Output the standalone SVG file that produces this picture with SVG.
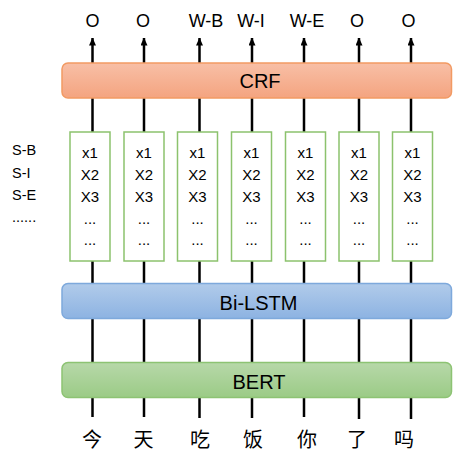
<svg xmlns="http://www.w3.org/2000/svg" width="453" height="453" viewBox="0 0 453 453">
  <defs>
    <linearGradient id="gCrf" x1="0" y1="0" x2="0" y2="1">
      <stop offset="0" stop-color="#f8bfa6"/>
      <stop offset="1" stop-color="#f4a480"/>
    </linearGradient>
    <linearGradient id="gLstm" x1="0" y1="0" x2="0" y2="1">
      <stop offset="0" stop-color="#b1cbea"/>
      <stop offset="1" stop-color="#8db3e2"/>
    </linearGradient>
    <linearGradient id="gBert" x1="0" y1="0" x2="0" y2="1">
      <stop offset="0" stop-color="#b7d8a9"/>
      <stop offset="1" stop-color="#9bcb86"/>
    </linearGradient>
    <marker id="arrow" viewBox="0 0 8 7" refX="7.5" refY="3.5" markerWidth="8" markerHeight="7" markerUnits="userSpaceOnUse" orient="auto">
      <path d="M0,0 L8,3.5 L0,7 Z" fill="#000"/>
    </marker>
    <style>
      .wire { stroke: #000; stroke-width: 2.5; fill: none; }
      .bar { stroke-width: 1.5; }
      .cell { fill: #fff; stroke: #8cc26d; stroke-width: 1.5; }
      .t { font-family: "Liberation Sans", Arial, sans-serif; fill: #000; }
      .lbl { font-size: 18px; text-anchor: middle; }
      .layer { font-size: 20px; text-anchor: middle; }
      .feat { font-size: 15px; text-anchor: middle; }
      .tag { font-size: 14.5px; }
      .zh { font-family: "Noto Sans CJK SC", sans-serif; font-size: 20px; text-anchor: middle; fill: #000; }
    </style>
  </defs>

  <!-- vertical token wires with output arrows -->
  <g id="connectors">
    <line class="wire" x1="92.5" y1="417" x2="92.5" y2="38" marker-end="url(#arrow)"/>
    <line class="wire" x1="144" y1="417" x2="144" y2="38" marker-end="url(#arrow)"/>
    <line class="wire" x1="199.5" y1="418" x2="199.5" y2="38" marker-end="url(#arrow)"/>
    <line class="wire" x1="252" y1="418" x2="252" y2="38" marker-end="url(#arrow)"/>
    <line class="wire" x1="304" y1="417" x2="304" y2="38" marker-end="url(#arrow)"/>
    <line class="wire" x1="359" y1="419" x2="359" y2="38" marker-end="url(#arrow)"/>
    <line class="wire" x1="411" y1="419" x2="411" y2="38" marker-end="url(#arrow)"/>
  </g>

  <!-- output tags -->
  <g id="outputs" class="t lbl">
    <text x="92.5" y="26.5">O</text>
    <text x="143" y="26.5">O</text>
    <text x="206" y="26.5">W-B</text>
    <text x="251" y="26.5">W-I</text>
    <text x="307" y="26.5">W-E</text>
    <text x="357" y="26.5">O</text>
    <text x="408.5" y="26.5">O</text>
  </g>

  <g id="crf">
    <rect class="bar" x="62" y="63" width="389.5" height="35" rx="6" fill="url(#gCrf)" stroke="#f29a63"/>
    <text class="t layer" x="260" y="88">CRF</text>
  </g>

  <!-- per-token feature columns -->
  <g id="feat1">
    <rect class="cell" x="70" y="132" width="40" height="129"/>
    <g class="t feat"><text x="90" y="158">x1</text><text x="90" y="180">X2</text><text x="90" y="202">X3</text><text x="90" y="224">...</text><text x="90" y="245">...</text></g>
  </g>
  <g id="feat2">
    <rect class="cell" x="124" y="132" width="40" height="129"/>
    <g class="t feat"><text x="144" y="158">x1</text><text x="144" y="180">X2</text><text x="144" y="202">X3</text><text x="144" y="224">...</text><text x="144" y="245">...</text></g>
  </g>
  <g id="feat3">
    <rect class="cell" x="177.5" y="132" width="40" height="129"/>
    <g class="t feat"><text x="197.5" y="158">x1</text><text x="197.5" y="180">X2</text><text x="197.5" y="202">X3</text><text x="197.5" y="224">...</text><text x="197.5" y="245">...</text></g>
  </g>
  <g id="feat4">
    <rect class="cell" x="231.5" y="132" width="40" height="129"/>
    <g class="t feat"><text x="251.5" y="158">x1</text><text x="251.5" y="180">X2</text><text x="251.5" y="202">X3</text><text x="251.5" y="224">...</text><text x="251.5" y="245">...</text></g>
  </g>
  <g id="feat5">
    <rect class="cell" x="285.5" y="132" width="40" height="129"/>
    <g class="t feat"><text x="305.5" y="158">x1</text><text x="305.5" y="180">X2</text><text x="305.5" y="202">X3</text><text x="305.5" y="224">...</text><text x="305.5" y="245">...</text></g>
  </g>
  <g id="feat6">
    <rect class="cell" x="339" y="132" width="40" height="129"/>
    <g class="t feat"><text x="359" y="158">x1</text><text x="359" y="180">X2</text><text x="359" y="202">X3</text><text x="359" y="224">...</text><text x="359" y="245">...</text></g>
  </g>
  <g id="feat7">
    <rect class="cell" x="392.5" y="132" width="40" height="129"/>
    <g class="t feat"><text x="412.5" y="158">x1</text><text x="412.5" y="180">X2</text><text x="412.5" y="202">X3</text><text x="412.5" y="224">...</text><text x="412.5" y="245">...</text></g>
  </g>

  <!-- tag legend -->
  <g id="tags" class="t tag">
    <text x="12" y="155">S-B</text>
    <text x="12" y="178">S-I</text>
    <text x="12" y="200">S-E</text>
    <text x="12" y="222">......</text>
  </g>

  <g id="bilstm">
    <rect class="bar" x="62" y="283.5" width="389.5" height="35" rx="6" fill="url(#gLstm)" stroke="#7ea9dc"/>
    <text class="t layer" x="258.5" y="309.5">Bi-LSTM</text>
  </g>

  <g id="bert">
    <rect class="bar" x="62" y="362.5" width="389.5" height="35" rx="6" fill="url(#gBert)" stroke="#8dc373"/>
    <text class="t layer" x="259" y="388.5">BERT</text>
  </g>

  <!-- input characters -->
  <g id="inputs" class="zh">
    <text x="92" y="447">今</text>
    <text x="143.5" y="447">天</text>
    <text x="200" y="447">吃</text>
    <text x="253" y="447">饭</text>
    <text x="307" y="447">你</text>
    <text x="357" y="447">了</text>
    <text x="404" y="447">吗</text>
  </g>
</svg>
